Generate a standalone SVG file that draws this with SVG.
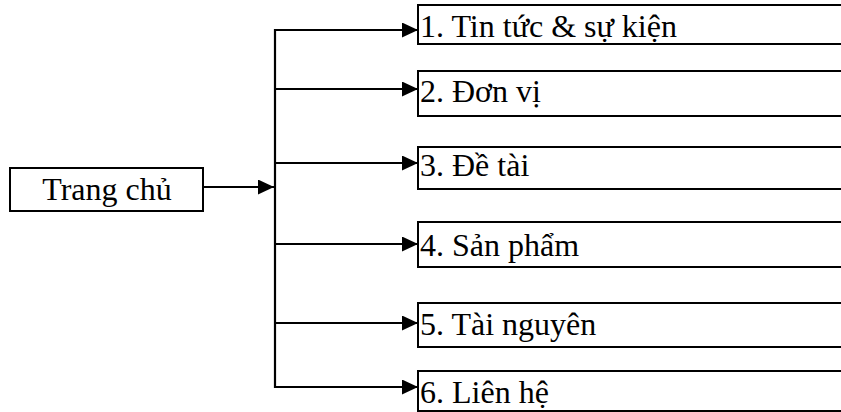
<svg xmlns="http://www.w3.org/2000/svg" width="841" height="412" viewBox="0 0 841 412">
<style>
.box{fill:#fff;stroke:#000;stroke-width:2}
.t{font-family:"Liberation Serif","DejaVu Serif",serif;font-size:32px;fill:#000}
.c{fill:none;stroke:#000;stroke-width:2.2}
</style>
<defs>
<marker id="ah" markerWidth="16" markerHeight="15" refX="16" refY="7.5" orient="auto" markerUnits="userSpaceOnUse">
<path d="M0,0 L16,7.5 L0,15 Z" fill="#000"/>
</marker>
</defs>
<rect width="841" height="412" fill="#fff"/>
<g id="connectors">
<path class="c" d="M203,187 H274" marker-end="url(#ah)"/>
<path class="c" d="M275,29 V388"/>
<path class="c" d="M274,30 H418" marker-end="url(#ah)"/>
<path class="c" d="M274,89 H418" marker-end="url(#ah)"/>
<path class="c" d="M274,163 H418" marker-end="url(#ah)"/>
<path class="c" d="M274,244 H418" marker-end="url(#ah)"/>
<path class="c" d="M274,323 H418" marker-end="url(#ah)"/>
<path class="c" d="M274,387 H418" marker-end="url(#ah)"/>
</g>
<g id="home">
<rect class="box" x="10" y="168" width="193" height="43"/>
<text class="t" x="107" y="200" text-anchor="middle">Trang chủ</text>
</g>
<g id="n1">
<rect class="box" x="418" y="5" width="430" height="39"/>
<text class="t" x="420" y="37">1. Tin tức &amp; sự kiện</text>
</g>
<g id="n2">
<rect class="box" x="418" y="71" width="430" height="45"/>
<text class="t" x="420" y="102">2. Đơn vị</text>
</g>
<g id="n3">
<rect class="box" x="418" y="147" width="430" height="42"/>
<text class="t" x="420" y="176">3. Đề tài</text>
</g>
<g id="n4">
<rect class="box" x="418" y="222" width="430" height="45"/>
<text class="t" x="420" y="256">4. Sản phẩm</text>
</g>
<g id="n5">
<rect class="box" x="418" y="303" width="430" height="44"/>
<text class="t" x="420" y="335">5. Tài nguyên</text>
</g>
<g id="n6">
<rect class="box" x="418" y="371" width="430" height="40"/>
<text class="t" x="420" y="403">6. Liên hệ</text>
</g>
</svg>
